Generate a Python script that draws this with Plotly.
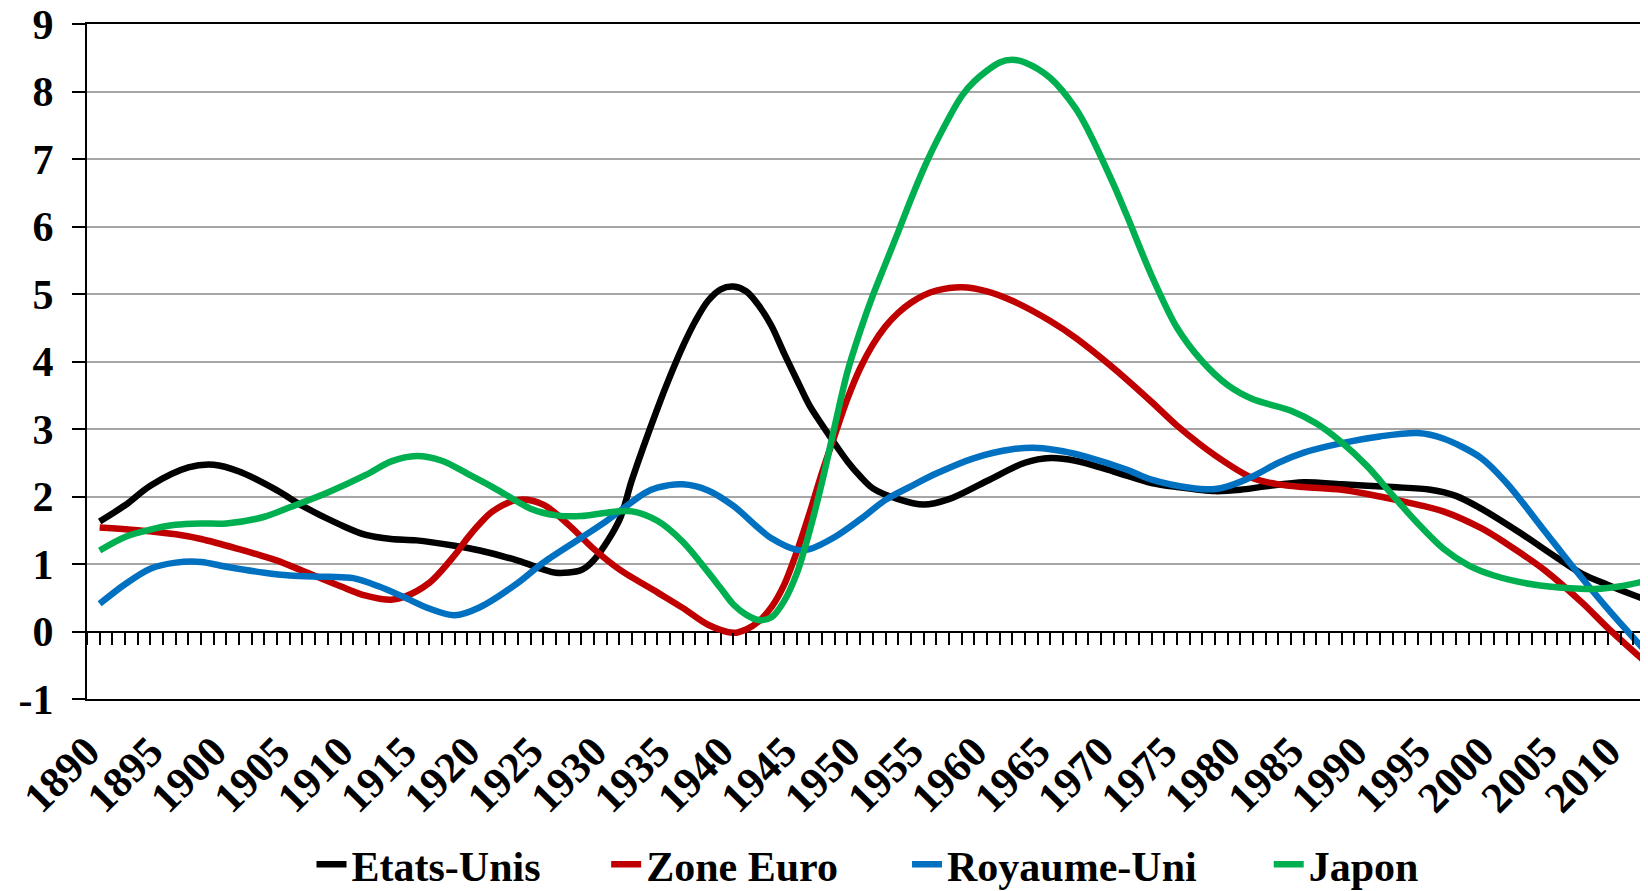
import plotly.graph_objects as go

# ---- data ----
us_years = [1891, 1893, 1895, 1898, 1900, 1902, 1905, 1907, 1910, 1912, 1914, 1916, 1919, 1921,
            1924, 1926, 1927, 1929, 1930, 1932, 1933, 1935, 1936, 1937, 1938, 1939, 1940, 1941,
            1942, 1943, 1944, 1945, 1946, 1947, 1948, 1950, 1951, 1952, 1954, 1956, 1958, 1961,
            1964, 1966, 1968, 1971, 1974, 1976, 1979, 1981, 1983, 1986, 1989, 1993, 1996, 1998,
            2000, 2003, 2006, 2008, 2010, 2012, 2013]
us_vals = [1.63, 1.87, 2.16, 2.43, 2.47, 2.37, 2.09, 1.86, 1.58, 1.43, 1.37, 1.35, 1.27, 1.20,
           1.05, 0.92, 0.87, 0.91, 1.06, 1.65, 2.25, 3.30, 3.78, 4.22, 4.60, 4.90, 5.07, 5.11,
           5.04, 4.83, 4.53, 4.12, 3.73, 3.35, 3.06, 2.52, 2.30, 2.12, 1.96, 1.88, 1.96, 2.23,
           2.50, 2.57, 2.53, 2.37, 2.20, 2.14, 2.08, 2.10, 2.15, 2.21, 2.18, 2.14, 2.10, 2.01,
           1.82, 1.47, 1.09, 0.85, 0.69, 0.54, 0.47]

ez_years = [1891, 1894, 1897, 1899, 1902, 1904, 1905, 1907, 1910, 1912, 1914, 1915, 1917, 1919,
            1920, 1921, 1922, 1924, 1926, 1928, 1930, 1932, 1935, 1937, 1939, 1941, 1942, 1943,
            1944, 1945, 1946, 1947, 1948, 1949, 1950, 1951, 1952, 1953, 1954, 1955, 1956, 1957,
            1959, 1961, 1963, 1966, 1968, 1971, 1974, 1976, 1979, 1982, 1984, 1986, 1989, 1992,
            1994, 1997, 2000, 2002, 2005, 2008, 2010, 2013]
ez_vals = [1.54, 1.50, 1.44, 1.37, 1.22, 1.11, 1.05, 0.90, 0.67, 0.53, 0.47, 0.51, 0.72, 1.13,
           1.38, 1.60, 1.78, 1.95, 1.88, 1.58, 1.22, 0.92, 0.58, 0.35, 0.10, -0.02, 0.03, 0.15,
           0.36, 0.69, 1.18, 1.75, 2.36, 2.91, 3.45, 3.90, 4.25, 4.52, 4.72, 4.87, 4.98, 5.05,
           5.10, 5.04, 4.90, 4.60, 4.35, 3.90, 3.40, 3.05, 2.61, 2.27, 2.18, 2.14, 2.10, 2.00,
           1.92, 1.78, 1.53, 1.30, 0.91, 0.42, 0.05, -0.46]

uk_years = [1891, 1893, 1895, 1897, 1899, 1901, 1904, 1906, 1909, 1911, 1913, 1915, 1917, 1919,
            1921, 1924, 1926, 1929, 1931, 1934, 1935, 1937, 1939, 1941, 1943, 1944, 1946, 1947,
            1949, 1951, 1953, 1955, 1957, 1960, 1963, 1965, 1967, 1969, 1972, 1974, 1977, 1979,
            1980, 1982, 1984, 1986, 1989, 1992, 1995, 1997, 2000, 2002, 2005, 2007, 2010, 2013]
uk_vals = [0.41, 0.70, 0.93, 1.02, 1.03, 0.96, 0.87, 0.83, 0.81, 0.79, 0.67, 0.51, 0.34, 0.24,
           0.36, 0.72, 1.02, 1.39, 1.64, 2.05, 2.13, 2.18, 2.09, 1.86, 1.53, 1.38, 1.21, 1.22,
           1.40, 1.66, 1.95, 2.15, 2.34, 2.57, 2.70, 2.72, 2.67, 2.58, 2.40, 2.25, 2.13, 2.11,
           2.15, 2.30, 2.50, 2.65, 2.79, 2.89, 2.94, 2.86, 2.57, 2.20, 1.49, 1.01, 0.33, -0.30]

jp_years = [1891, 1893, 1895, 1897, 1899, 1901, 1904, 1906, 1909, 1912, 1914, 1916, 1918, 1920,
            1922, 1923, 1925, 1927, 1929, 1931, 1933, 1935, 1937, 1939, 1940, 1941, 1942, 1943,
            1944, 1945, 1946, 1947, 1948, 1949, 1950, 1951, 1952, 1953, 1954, 1955, 1956, 1957,
            1959, 1960, 1962, 1963, 1964, 1966, 1968, 1969, 1971, 1972, 1974, 1976, 1978, 1980,
            1982, 1985, 1987, 1989, 1991, 1993, 1995, 1997, 1999, 2001, 2004, 2007, 2009, 2011,
            2013]
jp_vals = [1.20, 1.40, 1.51, 1.58, 1.60, 1.60, 1.70, 1.84, 2.06, 2.32, 2.52, 2.60, 2.53, 2.34,
           2.14, 2.03, 1.82, 1.72, 1.71, 1.76, 1.78, 1.64, 1.33, 0.88, 0.64, 0.40, 0.25, 0.17,
           0.21, 0.45, 0.86, 1.48, 2.22, 3.05, 3.85, 4.45, 4.98, 5.45, 5.92, 6.40, 6.85, 7.25,
           7.93, 8.15, 8.43, 8.47, 8.43, 8.20, 7.75, 7.42, 6.62, 6.18, 5.27, 4.50, 4.00, 3.65,
           3.44, 3.27, 3.08, 2.80, 2.45, 2.02, 1.60, 1.23, 0.98, 0.83, 0.70, 0.64, 0.63, 0.67,
           0.75]

series_names = ["Etats-Unis", "Zone Euro", "Royaume-Uni", "Japon"]
series_colors = ["#000000", "#C00000", "#0070C0", "#00B050"]
legend_ids = ["legend", "legend2", "legend3", "legend4"]
legend_x = [0.144, 0.333, 0.526, 0.758]

tick_years = list(range(1890, 2011, 5))
tick_labels = [str(y) for y in tick_years]
y_ticks = list(range(-1, 10))
y_labels = [str(v) for v in y_ticks]

FONT = "Liberation Serif, Times New Roman, serif"

fig = go.Figure()
for name, color, xs, ys, lg in zip(series_names, series_colors,
                                   [us_years, ez_years, uk_years, jp_years],
                                   [us_vals, ez_vals, uk_vals, jp_vals], legend_ids):
    fig.add_trace(go.Scatter(x=xs, y=ys, name=name, mode="lines", legend=lg,
                             line=dict(color=color, width=6.5, shape="spline", smoothing=0.9)))

# helper trace so the yearly tick axis at y=0 is rendered
fig.add_trace(go.Scatter(x=[us_years[0]], y=[None], xaxis="x2", showlegend=False,
                         hoverinfo="skip", mode="lines"))

legend_font = dict(family=FONT, size=42, color="black", weight="bold")
legends = {}
for lg, lx in zip(legend_ids, legend_x):
    legends[lg] = dict(orientation="h", x=lx, xanchor="left", y=-0.245, yanchor="middle",
                       font=legend_font, bgcolor="rgba(0,0,0,0)", itemwidth=30)

# the page body has an 8px default margin, so the figure is 8px smaller and shifted
fig.update_layout(
    width=1640, height=883,
    margin=dict(l=79, r=2, t=16, b=192, autoexpand=False),
    plot_bgcolor="white", paper_bgcolor="white",
    font=dict(family=FONT, size=40, color="black", weight="bold"),
    xaxis=dict(range=[1890, 2013], tickmode="array", tickvals=tick_years, ticktext=tick_labels,
               tickangle=-45, showgrid=False, zeroline=False, ticks="", automargin=False,
               showline=True, linecolor="black", linewidth=2, mirror=True,
               ticklabelstandoff=8, ticklabeloverflow="allow",
               tickfont=dict(family=FONT, size=43, color="black", weight="bold")),
    xaxis2=dict(overlaying="x", matches="x", anchor="free", position=0.1, automargin=False,
                tickmode="linear", tick0=1890, dtick=1, ticks="outside", ticklen=12,
                tickwidth=2, tickcolor="black", showticklabels=False, showgrid=False,
                zeroline=False, showline=False),
    yaxis=dict(range=[-1, 9], tickmode="array", tickvals=y_ticks, ticktext=y_labels,
               showgrid=True, gridcolor="#A6A6A6", gridwidth=2, automargin=False,
               zeroline=True, zerolinecolor="black", zerolinewidth=2,
               showline=True, linecolor="black", linewidth=2, mirror=True,
               ticks="outside", ticklen=13, tickwidth=2, tickcolor="black",
               ticklabelstandoff=10, ticklabeloverflow="allow",
               tickfont=dict(family=FONT, size=42, color="black", weight="bold")),
    showlegend=True,
    **legends,
)

fig.write_html("out.html")
